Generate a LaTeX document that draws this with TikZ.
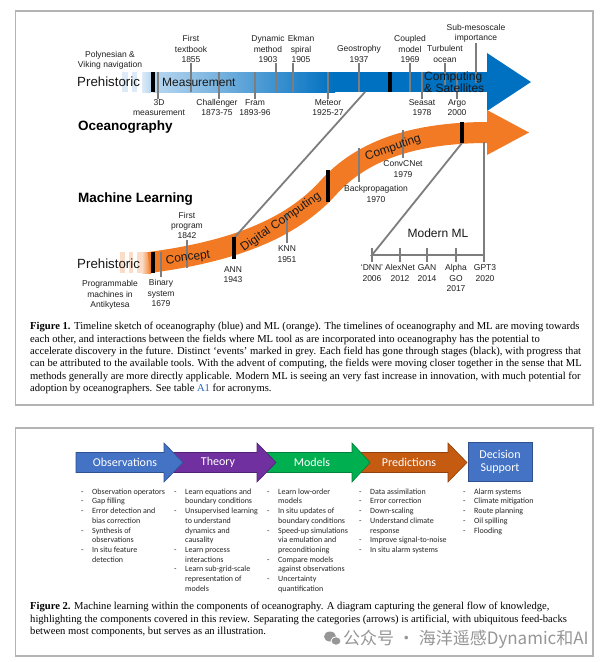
\documentclass[tikz,border=0pt]{standalone}
\usepackage{fontspec}
\setmainfont{Liberation Serif}
\newfontfamily\arialf{Liberation Sans}
\newfontfamily\calf{Carlito}
\newfontfamily\cjkf{Noto Sans CJK SC}
\definecolor{oblue}{RGB}{0,112,192}
\definecolor{lblue}{RGB}{185,215,240}
\definecolor{pblue}{RGB}{220,235,247}
\definecolor{morange}{RGB}{242,122,36}
\definecolor{porange}{RGB}{251,220,198}
\definecolor{evgrey}{RGB}{125,125,125}
\definecolor{frgrey}{RGB}{180,180,180}
\definecolor{cobs}{RGB}{68,114,196}
\definecolor{cobsd}{RGB}{47,82,143}
\definecolor{cth}{RGB}{112,48,160}
\definecolor{cthd}{RGB}{80,34,115}
\definecolor{cmod}{RGB}{0,176,80}
\definecolor{cmodd}{RGB}{0,130,60}
\definecolor{cpred}{RGB}{197,90,17}
\definecolor{cpredd}{RGB}{145,66,12}
\definecolor{linkblue}{RGB}{40,100,190}
\definecolor{wmgrey}{RGB}{150,150,150}
\newcommand\bdash{\makebox[11pt][l]{-}}
\newcommand\bind{\hspace*{11pt}}
\begin{document}
\begin{tikzpicture}[x=1pt,y=-1pt,
  lbl/.style={font=\arialf\fontsize{8.5}{10.3}\selectfont,align=center,inner sep=0pt,text=black!88},
  big/.style={font=\arialf\fontsize{12}{11}\selectfont,inner sep=0pt,text=black!90},
  bigger/.style={font=\arialf\fontsize{13.3}{14}\selectfont,inner sep=0pt,text=black!90},
  ttl/.style={font=\arialf\bfseries\fontsize{13.5}{15}\selectfont,inner sep=0pt,anchor=west},
  evt/.style={draw=evgrey,line width=1.8pt},
  stg/.style={draw=black,line width=4pt},
  boxframe/.style={draw=frgrey,line width=1.2pt},
  captxt/.style={font=\fontsize{10.6}{12.4}\selectfont,align=left,inner sep=0pt,anchor=north west},
  blst/.style={font=\calf\fontsize{8}{9.7}\selectfont,align=left,inner sep=0pt,anchor=north west,text=black!85},
  chevtxt/.style={font=\calf\fontsize{12}{13}\selectfont,text=white,inner sep=0pt,align=center}
]
\useasboundingbox (0,0) rectangle (606,662);
\fill[white] (0,0) rectangle (606,662);
% frames
\draw[boxframe] (15.5,11) rectangle (593,405);
\draw[boxframe] (15.5,428) rectangle (593,656);

% ===== blue timeline =====
\foreach \a/\b in {122/128,132/137}{\fill[pblue] (\a,72) rectangle (\b,92);}
\shade[left color=pblue,right color=lblue] (142,72) rectangle (151,92);
\shade[left color=lblue,right color=oblue] (153,72) rectangle (335,92);
\fill[oblue] (334,72) rectangle (488,92);
\fill[oblue] (487,53) -- (531,82) -- (487,111) -- cycle;

% ===== orange timeline =====
\foreach \a/\b in {120/125,129/133,137/142}{\fill[porange] (\a,252) rectangle (\b,273);}
\shade[left color=porange,right color=morange] (142,252) rectangle (151,273);
\draw[morange,line width=21pt] (149,262.5) .. controls (230,252) and (290,230) .. (328,188)
   .. controls (355,158) and (400,132.5) .. (488,132.5);
\fill[morange] (487,110) -- (529,132.5) -- (487,155) -- cycle;

% diagonal link oceanography -> ANN
\draw[evt] (365,92) -- (234,238);

% events on blue bar
\foreach \x/\a/\b in {158/72/99,191/63/92,219/72/99,255/72/99,276/63/92,293/63/92,328/72/99,359/63/92,410/63/92,422/72/99,445/63/85,457/72/99,476/43/83}
  {\draw[evt] (\x,\a) -- (\x,\b);}
% events on orange bar
\foreach \x/\a/\b in {161/252/277,187/240/268,287/213/243,359/148/182,403/130/158}
  {\draw[evt] (\x,\a) -- (\x,\b);}
% modern ML
\draw[evt] (462,143) -- (372,255) -- (484,255) -- (484,142);
\foreach \x in {372,400,427,456,484}{\draw[evt] (\x,248) -- (\x,262);}

% stages
\draw[stg] (152.5,72) -- (152.5,92);
\draw[stg] (390,72) -- (390,92);
\draw[stg] (152.5,252) -- (152.5,273);
\draw[stg] (234,237) -- (234,259);
\draw[stg] (328,170) -- (328,202);
\draw[stg] (462,122) -- (462,143);

% big texts
\node[bigger,anchor=west] (pre1) at (77,82) {Prehistoric};
\node[big,anchor=west] (meas) at (162,82) {Measurement};
\node[big,anchor=west,align=left] (comp1) at (424,82.5) {Computing\\\& Satellites};
\node[ttl] (ocean) at (78,127) {Oceanography};
\node[ttl] (ml) at (78,199) {Machine Learning};
\node[bigger,anchor=west] (pre2) at (77,264) {Prehistoric};
\node[big,rotate=8] (conc) at (188,258) {Concept};
\node[big,rotate=35] (digc) at (281,222) {Digital Computing};
\node[big,rotate=19] (comp2) at (393,148) {Computing};
\node[big] (modml) at (438,233) {Modern ML};

% blue labels
\node[lbl] (l1) at (110,60) {Polynesian \&\\Viking navigation};
\node[lbl] (l2) at (191,49) {First\\textbook\\1855};
\node[lbl] (l3) at (268,49) {Dynamic\\method\\1903};
\node[lbl] (l4) at (301,49) {Ekman\\spiral\\1905};
\node[lbl] (l5) at (359,54) {Geostrophy\\1937};
\node[lbl] (l6) at (410,49) {Coupled\\model\\1969};
\node[lbl] (l7) at (445,54) {Turbulent\\ocean};
\node[lbl] (l8) at (476,33.5) {Sub-mesoscale\\importance};
\node[lbl] (l9) at (159,107.5) {3D\\measurement};
\node[lbl] (l10) at (217,107.5) {Challenger\\1873-75};
\node[lbl] (l11) at (255,107.5) {Fram\\1893-96};
\node[lbl] (l12) at (328,107.5) {Meteor\\1925-27};
\node[lbl] (l13) at (422,107.5) {Seasat\\1978};
\node[lbl] (l14) at (457,107.5) {Argo\\2000};
% orange labels
\node[lbl] (m1) at (110,295) {Programmable\\machines in\\Antikytesa};
\node[lbl] (m2) at (161,293) {Binary\\system\\1679};
\node[lbl] (m3) at (187,225.5) {First\\program\\1842};
\node[lbl] (m4) at (233,274.5) {ANN\\1943};
\node[lbl] (m5) at (287,254) {KNN\\1951};
\node[lbl] (m6) at (376,194) {Backpropagation\\1970};
\node[lbl] (m7) at (403,169) {ConvCNet\\1979};
\node[lbl] (m8) at (372,273) {‘DNN’\\2006};
\node[lbl] (m9) at (400,273) {AlexNet\\2012};
\node[lbl] (m10) at (427,273) {GAN\\2014};
\node[lbl] (m11) at (456,278) {Alpha\\GO\\2017};
\node[lbl] (m12) at (485,273) {GPT3\\2020};

% caption 1
\node[captxt] (cap1) at (30,322) {\textbf{Figure 1.} Timeline sketch of oceanography (blue) and ML (orange). The timelines of oceanography and ML are moving towards\\
each other, and interactions between the fields where ML tool as are incorporated into oceanography has the potential to\\
accelerate discovery in the future. Distinct ‘events’ marked in grey. Each field has gone through stages (black), with progress that\\
can be attributed to the available tools. With the advent of computing, the fields were moving closer together in the sense that ML\\
methods generally are more directly applicable. Modern ML is seeing an very fast increase in innovation, with much potential for\\
adoption by oceanographers. See table \textcolor{linkblue}{A1} for acronyms.};

% ===== figure 2 =====
\filldraw[fill=cobs,draw=cobsd,line width=0.6pt] (468,442) rectangle (532,481);
\filldraw[fill=cpred,draw=cpredd,line width=0.6pt] (355,452.5) -- (448,452.5) -- (448,443) -- (467,462.5) -- (448,482) -- (448,472.5) -- (355,472.5) -- cycle;
\filldraw[fill=cmod,draw=cmodd,line width=0.6pt] (262,452.5) -- (352,452.5) -- (352,443) -- (370,462.5) -- (352,482) -- (352,472.5) -- (262,472.5) -- cycle;
\filldraw[fill=cth,draw=cthd,line width=0.6pt] (170,452.5) -- (257,452.5) -- (257,443) -- (276,462.5) -- (257,482) -- (257,472.5) -- (170,472.5) -- cycle;
\filldraw[fill=cobs,draw=cobsd,line width=0.6pt] (76,452.5) -- (164,452.5) -- (164,443) -- (183,462.5) -- (164,482) -- (164,472.5) -- (76,472.5) -- cycle;
\node[chevtxt] (obs) at (125,462.5) {Observations};
\node[chevtxt] (thy) at (218,462.5) {Theory};
\node[chevtxt] (mod) at (312,462.5) {Models};
\node[chevtxt] (prd) at (409,462.5) {Predictions};
\node[chevtxt] (dec) at (500,462) {Decision\\Support};

\node[blst] (b1) at (81,488.5) {\bdash Observation operators\\\bdash Gap filling\\\bdash Error detection and\\\bind bias correction\\\bdash Synthesis of\\\bind observations\\\bdash In situ feature\\\bind detection};
\node[blst] (b2) at (174,488.5) {\bdash Learn equations and\\\bind boundary conditions\\\bdash Unsupervised learning\\\bind to understand\\\bind dynamics and\\\bind causality\\\bdash Learn process\\\bind interactions\\\bdash Learn sub-grid-scale\\\bind representation of\\\bind models};
\node[blst] (b3) at (267,488.5) {\bdash Learn low-order\\\bind models\\\bdash In situ updates of\\\bind boundary conditions\\\bdash Speed-up simulations\\\bind via emulation and\\\bind preconditioning\\\bdash Compare models\\\bind against observations\\\bdash Uncertainty\\\bind quantification};
\node[blst] (b4) at (359,488.5) {\bdash Data assimilation\\\bdash Error correction\\\bdash Down-scaling\\\bdash Understand climate\\\bind response\\\bdash Improve signal-to-noise\\\bdash In situ alarm systems};
\node[blst] (b5) at (463,488.5) {\bdash Alarm systems\\\bdash Climate mitigation\\\bdash Route planning\\\bdash Oil spilling\\\bdash Flooding};

% caption 2
\node[captxt] (cap2) at (30,602) {\textbf{Figure 2.} Machine learning within the components of oceanography. A diagram capturing the general flow of knowledge,\\
highlighting the components covered in this review. Separating the categories (arrows) is artificial, with ubiquitous feed-backs\\
between most components, but serves as an illustration.};

% watermark
\fill[wmgrey] (330,636.5) ellipse [x radius=6pt, y radius=5pt];
\filldraw[fill=wmgrey,draw=white,line width=0.8pt] (336,641) ellipse [x radius=5pt, y radius=4.2pt];
\node[font=\cjkf\fontsize{17}{18}\selectfont,text=wmgrey,anchor=west,inner sep=0pt] (wm) at (343,639) {公众号 · 海洋遥感Dynamic和AI};
\end{tikzpicture}
\end{document}
